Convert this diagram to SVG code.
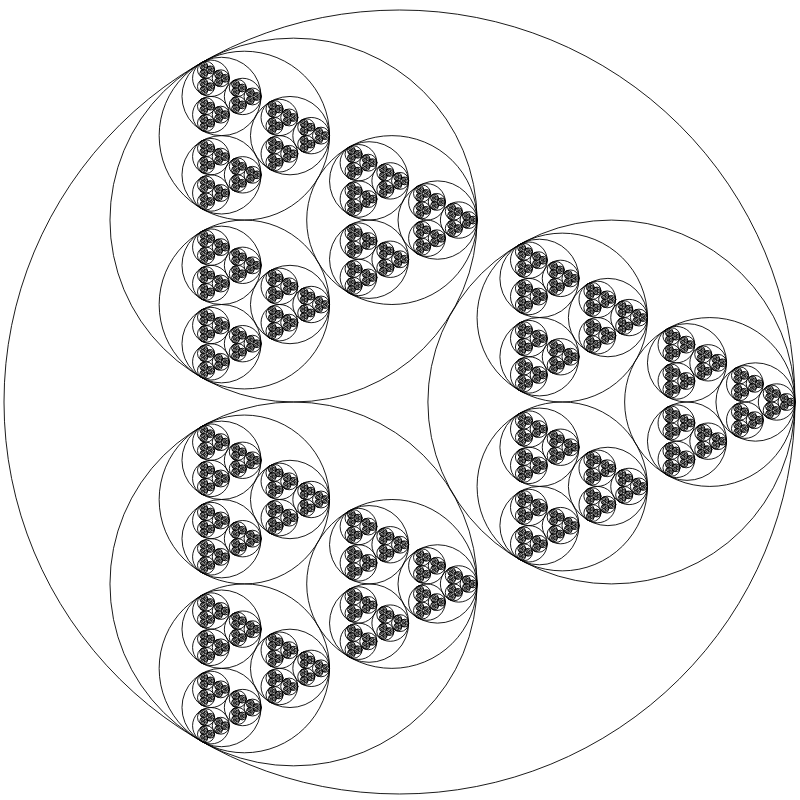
<svg xmlns="http://www.w3.org/2000/svg" xmlns:xlink="http://www.w3.org/1999/xlink" width="800" height="800" viewBox="0 0 800 800">
<style>
circle{fill:none;stroke:#000;stroke-width:0.9}
.c7{stroke-width:0.7}
.c8{stroke-width:0.45}
</style>
<defs>
<g id="L8"><circle class="c8" r="0.851"/></g>
<g id="L7"><circle class="c7" r="1.834"/><use href="#L8" x="0.983" y="0"/><use href="#L8" x="-0.491" y="-0.851"/><use href="#L8" x="-0.491" y="0.851"/></g>
<g id="L6"><circle r="3.952"/><use href="#L7" x="2.118" y="0"/><use href="#L7" x="-1.059" y="-1.834"/><use href="#L7" x="-1.059" y="1.834"/></g>
<g id="L5"><circle r="8.516"/><use href="#L6" x="4.564" y="0"/><use href="#L6" x="-2.282" y="-3.952"/><use href="#L6" x="-2.282" y="3.952"/></g>
<g id="L4"><circle r="18.348"/><use href="#L5" x="9.833" y="0"/><use href="#L5" x="-4.916" y="-8.516"/><use href="#L5" x="-4.916" y="8.516"/></g>
<g id="L3"><circle r="39.535"/><use href="#L4" x="21.187" y="0"/><use href="#L4" x="-10.593" y="-18.348"/><use href="#L4" x="-10.593" y="18.348"/></g>
<g id="L2"><circle r="85.187"/><use href="#L3" x="45.652" y="0"/><use href="#L3" x="-22.826" y="-39.535"/><use href="#L3" x="-22.826" y="39.535"/></g>
<g id="L1"><circle r="183.552"/><use href="#L2" x="98.365" y="0"/><use href="#L2" x="-49.183" y="-85.187"/><use href="#L2" x="-49.183" y="85.187"/></g>
</defs>
<g id="fractal" transform="translate(399.5,402) scale(1,0.99115)">
<circle id="outer" r="395.5"/>
<use id="right" href="#L1" x="211.948" y="0"/>
<use id="top-left" href="#L1" x="-105.974" y="-183.552"/>
<use id="bottom-left" href="#L1" x="-105.974" y="183.552"/>
</g>
</svg>
